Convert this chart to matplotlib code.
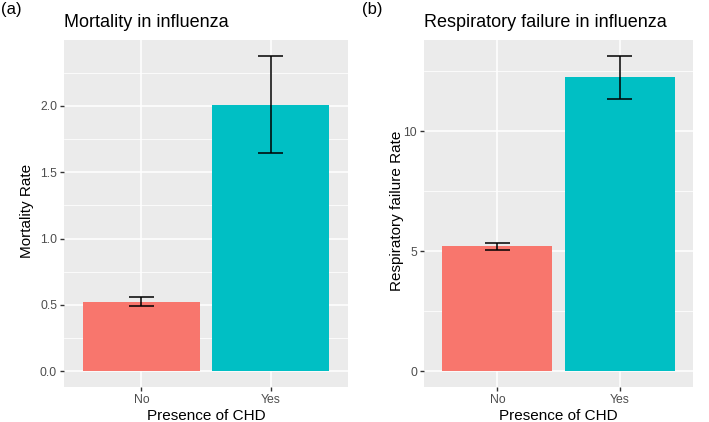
import matplotlib
matplotlib.use("Agg")
import matplotlib.pyplot as plt
from matplotlib.ticker import MultipleLocator
import numpy as np

plt.rcParams['font.family'] = ['Liberation Sans', 'DejaVu Sans']

categories = ["No", "Yes"]
colors = ["#F8766D", "#00BFC4"]

mort_rate = [0.523, 2.003]
mort_lo = [0.492, 1.647]
mort_hi = [0.557, 2.377]

resp_rate = [5.22, 12.25]
resp_lo = [5.07, 11.36]
resp_hi = [5.36, 13.15]

panels = [
    dict(tag="(a)", title="Mortality in influenza", ylabel="Mortality Rate",
         vals=mort_rate, lo=mort_lo, hi=mort_hi, major=0.5, fmt="{:.1f}",
         pos=[64/709, 35/422, (348-64)/709, (387-40)/422], tagx=1/709, ylabx=34/709),
    dict(tag="(b)", title="Respiratory failure in influenza", ylabel="Respiratory failure Rate",
         vals=resp_rate, lo=resp_lo, hi=resp_hi, major=5, fmt="{:.0f}",
         pos=[424/709, 35/422, (693-424)/709, (387-40)/422], tagx=362/709, ylabx=404/709),
]

fig = plt.figure(figsize=(7.09, 4.22), dpi=100)

for p in panels:
    ax = fig.add_axes(p["pos"])
    ax.set_facecolor("#EBEBEB")
    x = np.arange(1, len(categories) + 1)
    ax.bar(x, p["vals"], width=0.9, color=colors, zorder=2)
    ax.vlines(x, p["lo"], p["hi"], color="black", lw=1.1, zorder=3)
    ax.hlines(p["lo"], x - 0.1, x + 0.1, color="black", lw=1.1, zorder=3)
    ax.hlines(p["hi"], x - 0.1, x + 0.1, color="black", lw=1.1, zorder=3)
    top = max(p["hi"])
    ax.set_ylim(-0.05 * top, top * 1.05)
    ax.set_xlim(0.4, 2.6)
    ax.set_xticks(x)
    ax.set_xticklabels(categories)
    ax.yaxis.set_minor_locator(MultipleLocator(p["major"] / 2))
    ticks = [t for t in np.arange(0, top + 1e-9, p["major"])]
    ax.set_yticks(ticks)
    ax.set_yticklabels([p["fmt"].format(t) for t in ticks])
    ax.grid(which="major", color="white", lw=1.1, zorder=0)
    ax.grid(which="minor", axis="y", color="white", lw=0.55, zorder=0)
    ax.set_axisbelow(True)
    for s in ax.spines.values():
        s.set_visible(False)
    ax.tick_params(axis="both", which="major", length=3.0, width=1.0, color="#333333",
                   labelsize=8.8, labelcolor="#4D4D4D", pad=2)
    ax.tick_params(which="minor", length=0)
    ax.set_xlabel("Presence of CHD", fontsize=11, color="black", labelpad=2)
    ax.set_ylabel(p["ylabel"], fontsize=11, color="black")
    ax.yaxis.set_label_coords(p["ylabx"], 0.5, transform=fig.transFigure)
    fig.text(p["pos"][0], 1 - 27/422, p["title"], fontsize=13, ha="left", va="baseline")
    fig.text(p["tagx"], 1 - 14/422, p["tag"], fontsize=12, ha="left", va="baseline")

fig.savefig("out.png", dpi=100)
